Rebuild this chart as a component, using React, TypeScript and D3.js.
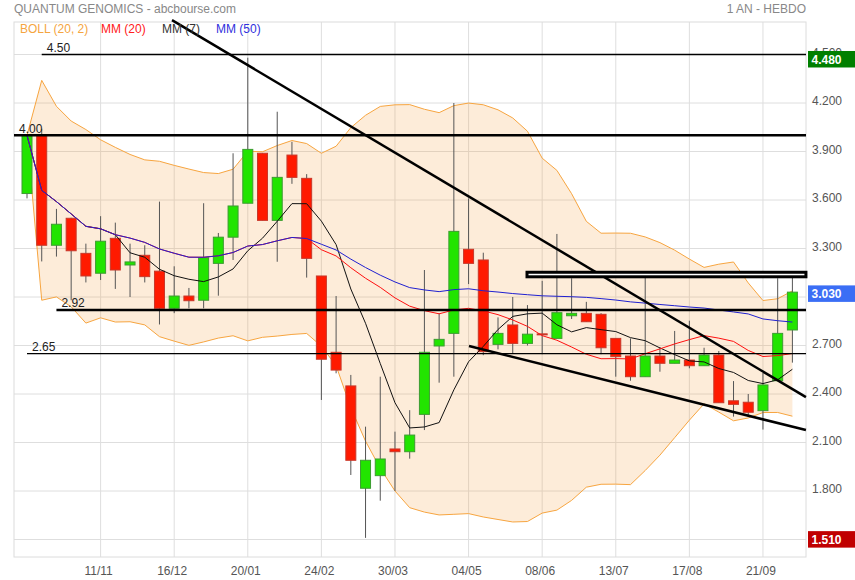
import React from "react";
import * as d3 from "d3";

// ---- Data (weekly candles, 07/10/2019 -> 05/10/2020) ----
const opens = [3.64, 4.0, 3.32, 3.487, 3.27, 3.147, 3.363, 3.198, 3.258, 3.16, 2.93, 3.006, 2.98, 3.208, 3.37, 3.58, 3.889, 3.474, 3.878, 3.734, 3.13, 2.658, 2.45, 1.817, 1.895, 2.06, 2.043, 2.274, 2.697, 2.775, 3.295, 3.229, 2.707, 2.827, 2.713, 2.772, 2.744, 2.884, 2.899, 2.893, 2.744, 2.635, 2.507, 2.635, 2.59, 2.61, 2.575, 2.641, 2.358, 2.349, 2.297, 2.482, 2.796];
const highs = [4.0, 4.04, 3.545, 3.49, 3.33, 3.5, 3.46, 3.33, 3.32, 3.59, 3.19, 3.056, 3.58, 3.396, 3.889, 4.48, 3.89, 4.146, 3.96, 3.76, 3.13, 3.006, 2.518, 2.198, 2.507, 2.167, 2.3, 3.167, 2.9, 4.2, 3.61, 3.274, 2.874, 3.0, 2.95, 3.1, 3.39, 3.116, 2.97, 2.9, 2.744, 2.744, 3.157, 2.69, 2.79, 2.853, 2.686, 2.666, 2.48, 2.4, 2.53, 3.116, 3.15];
const lows = [3.61, 3.22, 3.25, 2.98, 3.09, 3.105, 3.05, 3.0, 3.09, 2.83, 2.9, 2.93, 2.93, 3.008, 3.229, 3.58, 3.474, 3.218, 3.7, 3.12, 2.363, 2.528, 1.899, 1.51, 1.74, 1.8, 2.0, 2.177, 2.47, 2.507, 3.08, 2.64, 2.676, 2.65, 2.7, 2.646, 2.744, 2.864, 2.847, 2.646, 2.507, 2.482, 2.507, 2.538, 2.59, 2.559, 2.575, 2.346, 2.26, 2.26, 2.18, 2.482, 2.594];
const closes = [4.0, 3.32, 3.45, 3.286, 3.13, 3.345, 3.167, 3.217, 3.126, 2.93, 3.006, 2.977, 3.243, 3.37, 3.563, 3.913, 3.474, 3.74, 3.74, 3.239, 2.615, 2.548, 1.99, 1.99, 1.998, 2.043, 2.146, 2.658, 2.738, 3.406, 3.208, 2.662, 2.775, 2.713, 2.77, 2.768, 2.903, 2.899, 2.847, 2.686, 2.631, 2.507, 2.635, 2.59, 2.61, 2.575, 2.641, 2.346, 2.336, 2.287, 2.456, 2.775, 3.03];

const xTickIdx = [5, 10, 15, 20, 25, 30, 35, 40, 45, 50];
const xTickLabels = ["11/11", "16/12", "20/01", "24/02", "30/03", "04/05", "08/06", "13/07", "17/08", "21/09"];
const yTicks = [1.5, 1.8, 2.1, 2.4, 2.7, 3.0, 3.3, 3.6, 3.9, 4.2, 4.5];

// horizontal annotation lines: price, start index (null = left edge), width, label
const hPrices = [4.5, 4.0, 2.92, 2.65];
const hStarts = [1, null, 2, 0];
const hWidths = [1.3, 2.5, 2.5, 1.3];
const hLabels = ["4.50", "4.00", "2.92", "2.65"];

// sloped trendlines [i1, p1, i2, p2]
const trendA = [9.85, 4.713, 52.92, 2.381];
const trendB = [30.03, 2.697, 52.92, 2.177];
// resistance box [i1, pTop, i2, pBottom]
const boxZone = [33.97, 3.153, 52.92, 3.125];

const priceTags = [4.48, 3.03, 1.51];
const tagColors = ["#007f00", "#3b6ef5", "#c00000"];

const legendItems = ["BOLL (20, 2)", "MM (20)", "MM (7)", "MM (50)"];
const legendColors = ["#f5a540", "#ff2020", "#333333", "#3030dd"];

// ---- indicators derived from closes ----
function win(arr: number[], n: number, i: number) {
  return arr.slice(Math.max(0, i - n + 1), i + 1);
}
const sma = (n: number) => closes.map((_, i) => d3.mean(win(closes, n, i)) as number);
const mm7 = sma(7);
const mm20 = sma(20);
const mm50 = sma(50);
const bollUp = closes.map((_, i) => {
  const w = win(closes, 20, i);
  const m = d3.mean(w) as number;
  const sd = Math.sqrt(d3.mean(w.map((v) => (v - m) * (v - m))) as number);
  return m + 2 * sd;
});
const bollLo = closes.map((_, i) => {
  const w = win(closes, 20, i);
  const m = d3.mean(w) as number;
  const sd = Math.sqrt(d3.mean(w.map((v) => (v - m) * (v - m))) as number);
  return m - 2 * sd;
});

export default function App() {
  const W = 855, H = 580;
  const L = 14, R = 806, T = 22, B = 557;
  const x = d3.scaleLinear().domain([0, 52]).range([27, 792.4]);
  const y = d3.scaleLinear().domain([1.5, 4.5]).range([539.5, 54.5]);
  const font = "'Liberation Sans', Arial, sans-serif";
  const bw = 10;
  const idx = closes.map((_, i) => i);

  const area = d3.area<number>().x((i) => x(i)).y0((i) => y(bollLo[i])).y1((i) => y(bollUp[i]));
  const lineOf = (arr: number[]) => d3.line<number>().x((i) => x(i)).y((i) => y(arr[i]))(idx) as string;

  // a tick label is hidden when a price tag box fully covers it
  const tagTop = (p: number) => y(p) + 1.5 - 8.25;
  const tagBottom = (p: number) => y(p) + 1.5 + 8.25;
  const hidden = (p: number) =>
    priceTags.some((t) => tagTop(t) <= y(p) + 2 - 9 && tagBottom(t) >= y(p) + 2);

  return (
    <svg width={W} height={H} style={{ position: "absolute", left: 0, top: 0, background: "#fff" }} fontFamily={font}>
      <rect x={0} y={0} width={W} height={H} fill="#fff" />
      {/* grid */}
      {yTicks.map((p) => (
        <line key={"gy" + p} x1={L} x2={R} y1={y(p)} y2={y(p)} stroke="#dedede" strokeWidth={1} />
      ))}
      {xTickIdx.map((i) => (
        <line key={"gx" + i} x1={x(i)} x2={x(i)} y1={T} y2={B} stroke="#dedede" strokeWidth={1} />
      ))}
      <rect x={L} y={T} width={R - L} height={B - T} fill="none" stroke="#dcdcdc" strokeWidth={1} />

      {/* Bollinger */}
      <path d={area(idx) as string} fill="#f5a040" fillOpacity={0.2} stroke="none" />
      <path d={lineOf(bollUp)} fill="none" stroke="#f7a540" strokeWidth={1} />
      <path d={lineOf(bollLo)} fill="none" stroke="#f7a540" strokeWidth={1} />

      {/* candles */}
      {idx.map((i) => {
        const up = closes[i] >= opens[i];
        const top = y(Math.max(opens[i], closes[i]));
        const bot = y(Math.min(opens[i], closes[i]));
        return (
          <g key={"c" + i}>
            <line x1={x(i)} x2={x(i)} y1={y(highs[i])} y2={y(lows[i])} stroke="#555" strokeWidth={1} />
            <rect
              x={x(i) - bw / 2}
              y={top}
              width={bw}
              height={Math.max(1, bot - top)}
              fill={up ? "#22e400" : "#ff1a00"}
              stroke={up ? "#3c9c30" : "#c8382a"}
              strokeWidth={1}
            />
          </g>
        );
      })}

      {/* moving averages */}
      <path d={lineOf(mm7)} fill="none" stroke="#111" strokeWidth={1} />
      <path d={lineOf(mm20)} fill="none" stroke="#ff1010" strokeWidth={1} />
      <path d={lineOf(mm50)} fill="none" stroke="#2020d0" strokeWidth={1} />

      {/* annotations */}
      {hPrices.map((p, k) => {
        const x1 = hStarts[k] === null ? L : x(hStarts[k] as number);
        return (
          <g key={"h" + k}>
            <line x1={x1} x2={R} y1={y(p)} y2={y(p)} stroke="#000" strokeWidth={hWidths[k]} />
            <text x={x1 + 5} y={y(p) - 2.5} fontSize={12} fill="#222">{hLabels[k]}</text>
          </g>
        );
      })}
      <line x1={x(trendA[0])} y1={y(trendA[1])} x2={x(trendA[2])} y2={y(trendA[3])} stroke="#000" strokeWidth={2.5} />
      <line x1={x(trendB[0])} y1={y(trendB[1])} x2={x(trendB[2])} y2={y(trendB[3])} stroke="#000" strokeWidth={2.5} />
      <rect
        x={x(boxZone[0])}
        y={y(boxZone[1])}
        width={x(boxZone[2]) - x(boxZone[0])}
        height={y(boxZone[3]) - y(boxZone[1])}
        fill="#fff"
        stroke="#000"
        strokeWidth={3}
      />

      {/* right axis */}
      {yTicks.filter((p) => !hidden(p)).map((p) => (
        <text key={"ty" + p} x={812} y={y(p) + 2} fontSize={12} fill="#555">{p.toFixed(3)}</text>
      ))}
      {priceTags.map((p, k) => (
        <g key={"tag" + k}>
          <rect x={808} y={tagTop(p)} width={47} height={16.5} fill={tagColors[k]} />
          <text x={811.5} y={y(p) + 6} fontSize={12} fontWeight="bold" fill="#fff">{p.toFixed(3)}</text>
        </g>
      ))}

      {/* x axis labels */}
      {xTickIdx.map((i, k) => (
        <text key={"tx" + i} x={x(i) - 2} y={575} fontSize={12} fill="#555" textAnchor="middle">{xTickLabels[k]}</text>
      ))}

      {/* titles & legend */}
      <text x={14} y={13} fontSize={12} fill="#888">QUANTUM GENOMICS - abcbourse.com</text>
      <text x={806} y={13} fontSize={12} fill="#888" textAnchor="end">1 AN - HEBDO</text>
      {legendItems.map((t, k) => (
        <text key={"lg" + k} x={[20, 101, 162, 216][k]} y={33} fontSize={12} fill={legendColors[k]}>{t}</text>
      ))}
    </svg>
  );
}
